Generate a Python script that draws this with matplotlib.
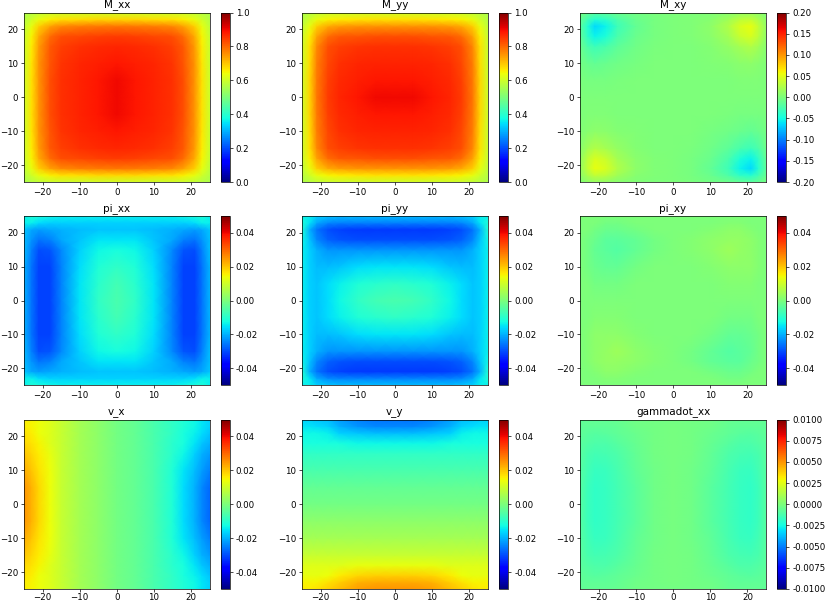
import numpy as np
import matplotlib
matplotlib.use("Agg")
import matplotlib.pyplot as plt

W, H = 830, 602
FS = 6.25
plt.rcParams.update({"font.size": FS, "axes.linewidth": 0.5,
                     "xtick.major.size": 2.2, "ytick.major.size": 2.2,
                     "xtick.major.width": 0.5, "ytick.major.width": 0.5,
                     "xtick.major.pad": 1.9, "ytick.major.pad": 2.2})

# Sample positions (distance from centre of the box)
R = [0, 5, 10, 15, 18, 21, 23, 25]
X_FULL = [-25, -23, -21, -18, -15, -10, -5, 0, 5, 10, 15, 18, 21, 23, 25]

# Quadrant tables: rows are |y| in R, columns |x| in R
M_xx = [
 [.900,.885,.872,.857,.825,.750,.670,.600],
 [.900,.885,.872,.857,.825,.750,.670,.600],
 [.885,.878,.868,.852,.820,.750,.665,.595],
 [.868,.864,.856,.842,.815,.745,.660,.595],
 [.845,.842,.835,.825,.795,.730,.650,.590],
 [.785,.780,.775,.765,.735,.690,.630,.580],
 [.680,.680,.675,.670,.655,.630,.600,.570],
 [.600,.600,.595,.595,.590,.580,.570,.560]]
M_yy = [
 [.900,.900,.885,.868,.845,.785,.680,.600],
 [.885,.885,.878,.864,.842,.780,.680,.600],
 [.872,.872,.868,.856,.835,.775,.675,.595],
 [.857,.857,.852,.842,.825,.765,.670,.595],
 [.825,.825,.820,.815,.795,.735,.655,.590],
 [.750,.750,.750,.745,.730,.690,.630,.580],
 [.670,.670,.665,.660,.650,.630,.600,.570],
 [.600,.600,.595,.595,.590,.580,.570,.560]]
# M_xy: same-sign corners (x*y>0) and opposite-sign corners (x*y<0), |x|,|y| in R
M_xy_same = [
 [0,0,0,0,0,0,0,0],
 [0,0,.000,.001,.002,.002,.002,.001],
 [0,0,.002,.004,.007,.009,.006,.003],
 [0,.001,.004,.012,.020,.026,.018,.006],
 [0,.002,.007,.020,.036,.044,.030,.010],
 [0,.002,.009,.026,.044,.052,.034,.012],
 [0,.002,.006,.018,.030,.034,.022,.008],
 [0,.001,.003,.006,.010,.012,.008,.002]]
M_xy_opp = [
 [0,0,0,0,0,0,0,0],
 [0,0,.000,-.001,-.002,-.002,-.002,-.001],
 [0,0,-.002,-.005,-.009,-.011,-.008,-.004],
 [0,-.001,-.005,-.015,-.024,-.031,-.022,-.007],
 [0,-.002,-.009,-.024,-.044,-.054,-.037,-.012],
 [0,-.002,-.011,-.031,-.054,-.065,-.042,-.015],
 [0,-.002,-.008,-.022,-.037,-.042,-.027,-.010],
 [0,-.001,-.004,-.007,-.012,-.015,-.010,-.003]]
pi_xx = [
 [-.006,-.009,-.015,-.025,-.031,-.031,-.026,-.020],
 [-.007,-.010,-.015,-.025,-.031,-.031,-.026,-.020],
 [-.009,-.011,-.016,-.025,-.031,-.031,-.026,-.020],
 [-.012,-.013,-.017,-.024,-.029,-.030,-.025,-.019],
 [-.015,-.015,-.018,-.021,-.025,-.026,-.023,-.019],
 [-.018,-.018,-.019,-.020,-.021,-.022,-.021,-.018],
 [-.017,-.017,-.017,-.017,-.017,-.016,-.014,-.014],
 [-.014,-.014,-.014,-.014,-.013,-.012,-.011,-.014]]
pi_yy = [
 [-.006,-.007,-.009,-.013,-.016,-.018,-.017,-.014],
 [-.009,-.010,-.011,-.014,-.016,-.018,-.017,-.014],
 [-.015,-.015,-.016,-.018,-.019,-.019,-.017,-.014],
 [-.023,-.023,-.023,-.023,-.023,-.020,-.017,-.014],
 [-.030,-.030,-.030,-.029,-.028,-.024,-.018,-.013],
 [-.032,-.032,-.032,-.031,-.030,-.026,-.020,-.011],
 [-.025,-.025,-.025,-.025,-.024,-.021,-.015,-.011],
 [-.019,-.019,-.019,-.019,-.018,-.017,-.014,-.014]]
pi_xy_same = [
 [0,0,0,0,0,0,0,0],
 [0,.000,.000,.001,.001,.001,.000,0],
 [0,.000,.001,.002,.002,.002,.001,0],
 [0,.001,.002,.004,.003,.002,.001,0],
 [0,.001,.002,.003,.003,.002,.001,0],
 [0,.000,.001,.002,.002,.001,.000,0],
 [0,0,0,.001,.001,0,0,0],
 [0,0,0,0,0,0,0,0]]
pi_xy_opp = [
 [0,0,0,0,0,0,0,0],
 [0,.000,.000,-.001,-.001,-.001,.000,0],
 [0,.000,-.001,-.003,-.003,-.002,-.001,0],
 [0,-.001,-.003,-.005,-.004,-.003,-.001,0],
 [0,-.001,-.003,-.004,-.004,-.002,-.001,0],
 [0,.000,-.001,-.002,-.002,-.001,.000,0],
 [0,0,0,-.001,-.001,0,0,0],
 [0,0,0,0,0,0,0,0]]
# v_x: rows |y| in R, columns X_FULL
v_x = [
 [.025,.022,.018,.014,.009,.005,.002,-.001,-.003,-.006,-.011,-.016,-.020,-.024,-.027],
 [.025,.022,.018,.014,.009,.005,.002,-.001,-.003,-.006,-.011,-.016,-.020,-.024,-.027],
 [.023,.020,.017,.014,.009,.005,.002,-.001,-.003,-.006,-.011,-.015,-.019,-.022,-.025],
 [.020,.018,.016,.013,.009,.005,.002,-.001,-.003,-.006,-.010,-.013,-.017,-.020,-.022],
 [.018,.017,.015,.012,.009,.005,.002,-.001,-.003,-.006,-.010,-.012,-.015,-.018,-.020],
 [.017,.016,.014,.012,.009,.005,.002,-.001,-.003,-.006,-.009,-.012,-.014,-.016,-.018],
 [.016,.015,.014,.012,.009,.005,.002,-.001,-.003,-.006,-.009,-.011,-.013,-.015,-.017],
 [.016,.015,.014,.012,.009,.005,.002,-.001,-.003,-.006,-.009,-.011,-.013,-.015,-.017]]
# v_y: rows y in X_FULL (from -25 upward), columns |x| in R
v_y = [
 [.025,.025,.024,.021,.019,.017,.016,.016],
 [.023,.023,.022,.019,.017,.015,.015,.015],
 [.019,.019,.018,.016,.014,.013,.013,.013],
 [.013,.013,.013,.012,.012,.012,.012,.012],
 [.009,.009,.009,.009,.009,.009,.009,.009],
 [.005,.005,.005,.005,.005,.005,.005,.005],
 [.002,.002,.002,.002,.002,.002,.002,.002],
 [-.001,-.001,-.001,-.001,-.001,-.001,-.001,-.001],
 [-.003,-.003,-.003,-.003,-.003,-.003,-.003,-.003],
 [-.006,-.006,-.006,-.006,-.006,-.006,-.006,-.006],
 [-.009,-.009,-.009,-.009,-.009,-.009,-.009,-.009],
 [-.013,-.013,-.013,-.012,-.012,-.012,-.012,-.012],
 [-.019,-.019,-.018,-.017,-.014,-.013,-.013,-.013],
 [-.024,-.024,-.023,-.020,-.017,-.016,-.015,-.015],
 [-.026,-.026,-.025,-.022,-.019,-.018,-.017,-.017]]
gammadot_xx = [
 [-.0001,-.0003,-.0008,-.0014,-.0017,-.0018,-.0015,-.0009],
 [-.0001,-.0003,-.0008,-.0014,-.0017,-.0018,-.0015,-.0009],
 [-.0001,-.0003,-.0007,-.0013,-.0016,-.0017,-.0014,-.0009],
 [-.0001,-.0002,-.0006,-.0011,-.0013,-.0014,-.0012,-.0008],
 [-.0001,-.0002,-.0005,-.0009,-.0011,-.0011,-.0010,-.0008],
 [-.0001,-.0002,-.0004,-.0007,-.0008,-.0009,-.0008,-.0007],
 [-.0001,-.0002,-.0003,-.0006,-.0007,-.0007,-.0007,-.0007],
 [-.0002,-.0002,-.0003,-.0005,-.0006,-.0006,-.0006,-.0007]]

TITLES = ["M_xx", "M_yy", "M_xy", "pi_xx", "pi_yy", "pi_xy", "v_x", "v_y", "gammadot_xx"]
LIMITS = [(0, 1), (0, 1), (-.2, .2), (-.05, .05), (-.05, .05), (-.05, .05),
          (-.05, .05), (-.05, .05), (-.01, .01)]
CBAR_TICKS = [
 [0, .2, .4, .6, .8, 1.0], [0, .2, .4, .6, .8, 1.0],
 [-.2, -.15, -.1, -.05, 0, .05, .1, .15, .2],
 [-.04, -.02, 0, .02, .04], [-.04, -.02, 0, .02, .04], [-.04, -.02, 0, .02, .04],
 [-.04, -.02, 0, .02, .04], [-.04, -.02, 0, .02, .04],
 [-.01, -.0075, -.005, -.0025, 0, .0025, .005, .0075, .01]]
CBAR_FMT = ["%.1f", "%.1f", "%.2f", "%.2f", "%.2f", "%.2f", "%.2f", "%.2f", "%.4f"]
AX_TICKS = [-20, -10, 0, 10, 20]

r = np.array(R, float)
axis = np.concatenate([-r[:0:-1], r])
n = len(R) - 1
idx = np.abs(np.arange(-n, n + 1))


def mirrored(q):
    q = np.asarray(q)
    return q[np.ix_(idx, idx)]


def corners(same, opp):
    same, opp = np.asarray(same), np.asarray(opp)
    out = same[np.ix_(idx, idx)].copy()
    s = np.arange(-n, n + 1)
    mask = np.outer(s, s) < 0
    out[mask] = opp[np.ix_(idx, idx)][mask]
    return out


fields = [
    (axis, axis, mirrored(M_xx)), (axis, axis, mirrored(M_yy)),
    (axis, axis, corners(M_xy_same, M_xy_opp)),
    (axis, axis, mirrored(pi_xx)), (axis, axis, mirrored(pi_yy)),
    (axis, axis, corners(pi_xy_same, pi_xy_opp)),
    (np.array(X_FULL, float), axis, np.asarray(v_x)[idx, :]),
    (axis, np.array(X_FULL, float), np.asarray(v_y)[:, idx]),
    (axis, axis, mirrored(gammadot_xx)),
]

COL_X = [(24, 209.5, 220.7, 229.7), (302, 487.7, 499, 508), (580, 766, 777, 786)]
ROW_Y = [(12.5, 182), (216, 385), (419.5, 589)]

fig = plt.figure(figsize=(W / 100, H / 100), dpi=100)
for i, (title, lim, cticks, fmt, (xs, ys, zs)) in enumerate(
        zip(TITLES, LIMITS, CBAR_TICKS, CBAR_FMT, fields)):
    row, col = divmod(i, 3)
    x0, x1, c0, c1 = COL_X[col]
    y0, y1 = ROW_Y[row]
    ax = fig.add_axes([x0 / W, 1 - y1 / H, (x1 - x0) / W, (y1 - y0) / H])
    cax = fig.add_axes([c0 / W, 1 - y1 / H, (c1 - c0) / W, (y1 - y0) / H])
    mesh = ax.pcolormesh(xs, ys, zs, shading="gouraud", cmap="jet",
                         vmin=lim[0], vmax=lim[1], rasterized=True)
    ax.set_xlim(-25, 25)
    ax.set_ylim(-25, 25)
    ax.set_xticks(AX_TICKS)
    ax.set_yticks(AX_TICKS)
    if row == 2:
        ax.tick_params(axis="x", pad=0.9)
    ax.set_title(title, fontsize=7.5, pad=3.75)
    cb = fig.colorbar(mesh, cax=cax, ticks=cticks, format=fmt)
    cb.outline.set_linewidth(0.5)

fig.savefig("out.png", dpi=100)
